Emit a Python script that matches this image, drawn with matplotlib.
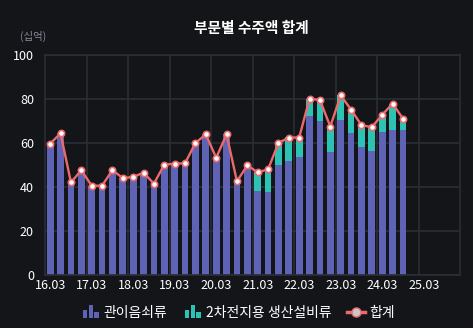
import numpy as np
import matplotlib
matplotlib.use("Agg")
import matplotlib.pyplot as plt
from matplotlib.patches import Rectangle
from matplotlib.lines import Line2D
from matplotlib.legend_handler import HandlerBase

plt.rcParams['font.family'] = ['Noto Sans CJK KR', 'DejaVu Sans']

# quarterly order intake (십억), 16.03 ~ 24.09
quarters = ["16.03", "16.06", "16.09", "16.12", "17.03", "17.06", "17.09", "17.12",
            "18.03", "18.06", "18.09", "18.12", "19.03", "19.06", "19.09", "19.12",
            "20.03", "20.06", "20.09", "20.12", "21.03", "21.06", "21.09", "21.12",
            "22.03", "22.06", "22.09", "22.12", "23.03", "23.06", "23.09", "23.12",
            "24.03", "24.06", "24.09"]
pipe = [59.7, 64.4, 42.1, 47.6, 40.6, 40.6, 47.7, 44.0,
        44.6, 46.5, 41.5, 50.2, 50.6, 50.8, 60.0, 63.9,
        53.3, 63.9, 42.6, 49.8, 38.4, 37.9, 49.8, 51.8,
        53.8, 72.2, 69.9, 55.9, 70.4, 64.7, 58.0, 56.5,
        65.1, 66.0, 66.0]
battery = [0, 0, 0, 0, 0, 0, 0, 0,
           0, 0, 0, 0, 0, 0, 0, 0,
           0, 0, 0, 0, 8.3, 10.1, 10.2, 10.7,
           8.7, 8.0, 9.6, 11.6, 11.2, 10.5, 10.1, 10.7,
           7.7, 11.9, 5.1]
total = [p + b for p, b in zip(pipe, battery)]

tick_labels = ["16.03", "17.03", "18.03", "19.03", "20.03",
               "21.03", "22.03", "23.03", "24.03", "25.03"]

bg = "#131519"
c_pipe = "#5f63b6"
c_batt = "#2cc3b5"
c_line = "#ec6a6b"
c_grid = "#2b2e34"

fig = plt.figure(figsize=(4.73, 3.28), dpi=100, facecolor=bg)
ax = fig.add_axes([45 / 473, 53 / 328, 415 / 473, 220 / 328], facecolor=bg)

x = np.arange(len(quarters))
ax.bar(x, pipe, width=0.66, color=c_pipe, zorder=2)
ax.bar(x, battery, bottom=pipe, width=0.66, color=c_batt, zorder=2)
ax.plot(x, total, color=c_line, lw=1.7, marker="o", ms=4.5,
        mfc="white", mec=c_line, mew=1.2, zorder=3)

ax.set_xlim(-0.5, 39.5)
ax.set_ylim(0, 100)
ax.set_yticks(range(0, 101, 20))
ax.set_xticks(range(0, 37, 4))
ax.set_xticklabels(tick_labels)
ax.set_xticks(np.arange(3.5, 39, 4), minor=True)
ax.tick_params(axis="both", which="both", length=0, colors="white", labelsize=9)
ax.tick_params(axis="x", pad=3)
ax.tick_params(axis="y", pad=8)
ax.grid(axis="y", color=c_grid, lw=1.2, zorder=0)
ax.grid(axis="x", which="minor", color=c_grid, lw=1.2, zorder=0)
for s in ax.spines.values():
    s.set_color(c_grid)
    s.set_linewidth(1.2)

fig.text(251 / 473, 1 - 28 / 328, "부문별 수주액 합계", color="white",
         fontsize=10.6, fontweight="bold", ha="center", va="center")
fig.text(20 / 473, 1 - 36 / 328, "(십억)", color="#8a8f99", fontsize=7.5,
         ha="left", va="center")


class BarsHandler(HandlerBase):
    # little three-bar icon for the bar series
    def create_artists(self, legend, orig, xd, yd, w, h, fs, trans):
        color = orig.get_facecolor()
        bw = w / 3.8
        out = []
        for i, frac in enumerate([0.65, 1.0, 0.5]):
            r = Rectangle((xd + w * 0.1 + i * (bw + 0.8), yd - h * 0.15), bw, h * 1.35 * frac,
                          facecolor=color, transform=trans)
            out.append(r)
        return out


handles = [Rectangle((0, 0), 1, 1, facecolor=c_pipe),
           Rectangle((0, 0), 1, 1, facecolor=c_batt),
           Line2D([], [], color=c_line, lw=2.5, marker="o", ms=6.5,
                  mfc="#c8c8c8", mec=c_line)]
leg = fig.legend(handles, ["관이음쇠류", "2차전지용 생산설비류", "합계"],
                 loc="center", bbox_to_anchor=(238 / 473, 1 - 313 / 328),
                 ncol=3, frameon=False, fontsize=10, labelcolor="white",
                 handlelength=1.3, handletextpad=0.35, columnspacing=1.1,
                 handler_map={Rectangle: BarsHandler()})

fig.savefig("out.png", dpi=100, facecolor=bg)
